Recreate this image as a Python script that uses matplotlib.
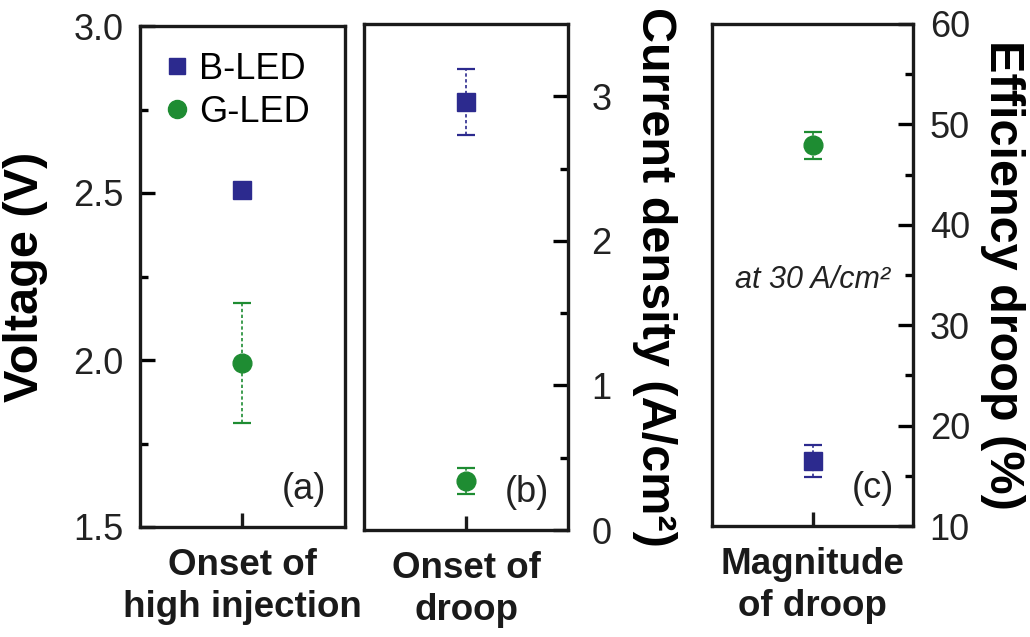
import matplotlib.pyplot as plt
from matplotlib.lines import Line2D

plt.rcParams['font.family'] = ['Liberation Sans', 'DejaVu Sans']

# data
categories = ['Onset of\nhigh injection', 'Onset of\ndroop', 'Magnitude\nof droop']
panel_tags = ['(a)', '(b)', '(c)']
ylabels = ['Voltage (V)', 'Current density (A/cm\u00b2)', 'Efficiency droop (%)']
b_led = [2.51, 2.96, 16.5]
b_err = [0.01, 0.23, 1.6]
g_led = [1.99, 0.34, 47.9]
g_err = [0.18, 0.09, 1.3]
ylims = [(1.5, 3.0), (0, 3.5), (10, 60)]
yticks = [[1.5, 2.0, 2.5, 3.0], [0, 1, 2, 3], [10, 20, 30, 40, 50, 60]]
yticklabels = [['1.5', '2.0', '2.5', '3.0'], ['0', '1', '2', '3'],
               ['10', '20', '30', '40', '50', '60']]
yminor = [[1.75, 2.25, 2.75], [0.5, 1.5, 2.5], [15, 25, 35, 45, 55]]

BLUE = '#2c2a8e'
GREEN = '#1e8c32'
W, H = 1030, 637

# axes boxes in pixels: left, right, top, bottom
boxes = [(140, 345, 26, 527), (364, 568, 24, 530), (712, 913, 24, 526)]
label_x = [25, 655, 1003]

fig = plt.figure(figsize=(W / 100, H / 100), dpi=100)

for i in range(3):
    l, r, t, b = boxes[i]
    ax = fig.add_axes([l / W, (H - b) / H, (r - l) / W, (b - t) / H])
    for sp in ax.spines.values():
        sp.set_linewidth(2.4)
        sp.set_color('#1a1a1a')

    for vals, errs, mk, col in [(b_led, b_err, 's', BLUE), (g_led, g_err, 'o', GREEN)]:
        ln, caps, bars = ax.errorbar([0], [vals[i]], yerr=[errs[i]], fmt=mk, color=col,
                                     ms=13.5, capsize=6.5, capthick=1.6, elinewidth=1.2,
                                     zorder=3)
        bars[0].set_linestyle((0, (2, 1.5)))
        ln.set_zorder(4)

    ax.set_xlim(-1, 1)
    ax.set_ylim(*ylims[i])
    ax.set_xticks([0], [categories[i]], fontsize=26.5, fontweight='bold',
                  linespacing=1.28)
    ax.set_yticks(yticks[i], yticklabels[i])
    ax.set_yticks(yminor[i], minor=True)
    ax.tick_params(axis='x', direction='in', length=10, width=2.4, pad=15,
                   colors='#1a1a1a')
    side_left = (i == 0)
    ax.tick_params(axis='y', which='both', direction='in', width=2.4,
                   left=side_left, right=not side_left,
                   labelleft=side_left, labelright=not side_left,
                   labelsize=26, labelcolor='#222222')
    ax.tick_params(axis='y', which='major', length=11, pad=12 if i != 1 else 17)
    ax.tick_params(axis='y', which='minor', length=6)

    if i > 0:
        ax.yaxis.set_label_position('right')
    lab = ax.set_ylabel(ylabels[i], fontsize=35, fontweight='bold',
                        rotation=90 if i == 0 else -90)
    lab.set_va('center')
    lab.set_ha('center')
    ax.yaxis.set_label_coords((label_x[i] - l) / (r - l), 0.5)

    ax.text(0.80, 0.075, panel_tags[i], transform=ax.transAxes, fontsize=26,
            ha='center', va='center', color='#222222')

    if i == 0:
        handles = [Line2D([], [], ls='none', marker='s', color=BLUE, ms=11.5),
                   Line2D([], [], ls='none', marker='o', color=GREEN, ms=13)]
        ax.legend(handles, ['B-LED', 'G-LED'], loc='upper left',
                  bbox_to_anchor=(0.112, 0.948), frameon=False, fontsize=26,
                  handlelength=0.8, handletextpad=0.2, borderpad=0,
                  borderaxespad=0, labelspacing=0.22, numpoints=1)
    if i == 2:
        ax.text(0.5, 0.49, 'at 30 A/cm\u00b2', transform=ax.transAxes, fontsize=22,
                style='italic', ha='center', va='center', color='#222222')

fig.savefig('out.png', dpi=100)
